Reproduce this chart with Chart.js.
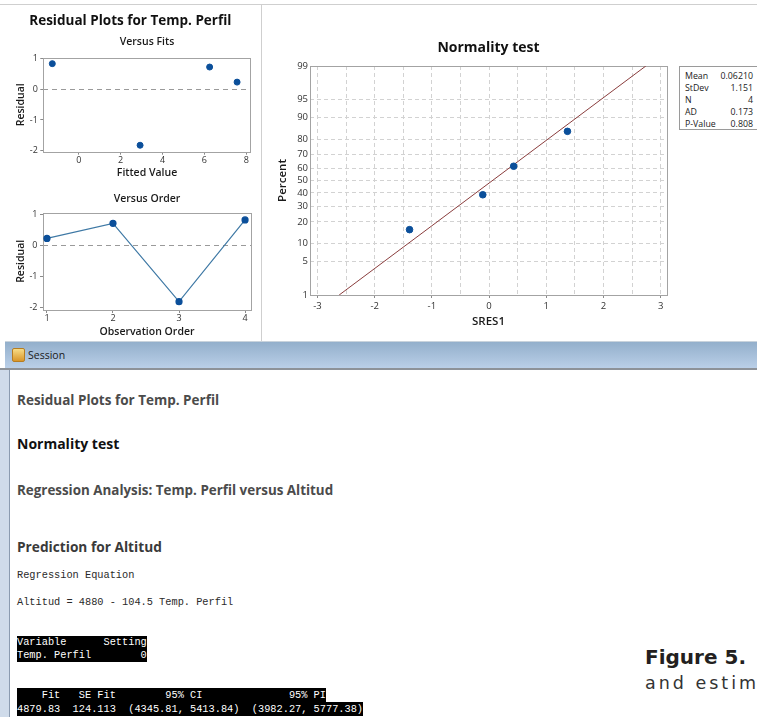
<!DOCTYPE html>
<html>
<head>
<meta charset="utf-8">
<script src="https://cdn.jsdelivr.net/npm/chart.js@4.4.0/dist/chart.umd.min.js"></script>
<style>
  body { margin: 0; width: 757px; height: 717px; overflow: hidden; background: #fff; position: relative; font-family: "Open Sans", sans-serif; }
  .abs { position: absolute; }
  .head { position: absolute; left: 17px; height: 20px; line-height: 20px; font-weight: 700; white-space: nowrap; }
  .mono { position: absolute; left: 17px; font-family: "Liberation Mono", monospace; font-size: 10.3px; color: #2a2a2a; white-space: pre; }
  .hl { display: inline-block; background: #000; color: #fff; }
  #stats { left: 679px; top: 66px; width: 90px; height: 62px; border: 1px solid #9a9a9a; font-size: 8.8px; color: #222; }
  #stats table { border-collapse: collapse; margin: 3px 0 0 5px; width: 68px; }
  #stats td { padding: 0; height: 12px; line-height: 12px; }
  #stats td.v { text-align: right; }
</style>
</head>
<body>
<div class="abs" style="left:0;top:4px;width:757px;height:1px;background:#cfcfcf"></div>
<div class="abs" style="left:261px;top:4px;width:1px;height:338px;background:#cfcfcf"></div>

<canvas id="fits" class="abs" style="left:10px;top:0" width="251" height="182"></canvas>
<canvas id="order" class="abs" style="left:10px;top:182px" width="251" height="158"></canvas>
<canvas id="normal" class="abs" style="left:262px;top:5px" width="415" height="335"></canvas>

<div id="stats" class="abs">
  <table>
    <tr><td>Mean</td><td class="v">0.06210</td></tr>
    <tr><td>StDev</td><td class="v">1.151</td></tr>
    <tr><td>N</td><td class="v">4</td></tr>
    <tr><td>AD</td><td class="v">0.173</td></tr>
    <tr><td>P-Value</td><td class="v">0.808</td></tr>
  </table>
</div>

<!-- session window -->
<div class="abs" style="left:5px;top:341px;width:752px;height:1px;background:#c9d3dc"></div>
<div class="abs" style="left:5px;top:342px;width:752px;height:26px;background:linear-gradient(#93afcb,#bacfe8)"></div>
<div class="abs" style="left:12px;top:348px;width:11px;height:12px;background:linear-gradient(#f7dc86,#d9962a);border:1px solid #b67d22;border-radius:2px"></div>
<div class="abs" style="left:28px;top:346px;font-size:10.5px;line-height:18px;color:#1a1a1a">Session</div>
<div class="abs" style="left:0;top:368px;width:757px;height:2px;background:#8d9299"></div>
<div class="abs" style="left:0;top:370px;width:9px;height:347px;background:#cfdbea"></div>
<div class="abs" style="left:9px;top:370px;width:1px;height:347px;background:#8b9bb0"></div>

<div class="head" style="top:390px;font-size:13.5px;color:#4b4b4b">Residual Plots for Temp. Perfil</div>
<div class="head" style="top:434px;font-size:14px;color:#111">Normality test</div>
<div class="head" style="top:480px;font-size:13.4px;color:#4b4b4b">Regression Analysis: Temp. Perfil versus Altitud</div>
<div class="head" style="top:537px;font-size:13.7px;color:#3a3a3a">Prediction for Altitud</div>
<div class="mono" style="top:569px">Regression Equation</div>
<div class="mono" style="top:596px">Altitud = 4880 - 104.5 Temp. Perfil</div>
<div class="mono" style="top:636px;line-height:13px"><span class="hl">Variable      Setting</span><br><span class="hl">Temp. Perfil        0</span></div>
<div class="mono" style="top:688px;line-height:14px"><span class="hl">    Fit   SE Fit        95% CI              95% PI</span><br><span class="hl">4879.83  124.113  (4345.81, 5413.84)  (3982.27, 5777.38)</span></div>

<div class="abs" style="left:645px;top:645px;font-family:'DejaVu Sans',sans-serif;font-weight:bold;font-size:20px;line-height:24px;color:#231f20;white-space:nowrap">Figure 5.</div>
<div class="abs" style="left:645px;top:671px;font-family:'DejaVu Sans',sans-serif;font-size:17.5px;line-height:24px;letter-spacing:3px;color:#333;white-space:nowrap">and estim</div>

<script>
// residuals by observation order
const observation = [1, 2, 3, 4];
const fittedValue = [7.56, 6.25, 2.93, -1.26];
const residual = [0.23, 0.72, -1.82, 0.83];

// normal probability plot
const sres = [-1.39, -0.11, 0.43, 1.37];
const sresPercent = [15.9, 38.6, 61.4, 84.1];
const fitLineX = [-2.62, 2.74];
const fitLinePercent = [1, 99];
const percentTicks = [1, 5, 10, 20, 30, 40, 50, 60, 70, 80, 90, 95, 99];

const FONT = '"Open Sans", sans-serif';
const ptBlue = '#0b4f9a';

// inverse normal cdf (Acklam) for the probability axis
function probit(p) {
  const a = [-39.69683028665376, 220.9460984245205, -275.9285104469687, 138.3577518672690, -30.66479806614716, 2.506628277459239];
  const b = [-54.47609879822406, 161.5858368580409, -155.6989798598866, 66.80131188771972, -13.28068155288572];
  const c = [-0.007784894002430293, -0.3223964580411365, -2.400758277161838, -2.549732539343734, 4.374664141464968, 2.938163982698783];
  const d = [0.007784695709041462, 0.3224671290700398, 2.445134137142996, 3.754408661907416];
  const pl = 0.02425;
  let q, r;
  if (p < pl) {
    q = Math.sqrt(-2 * Math.log(p));
    return (((((c[0]*q+c[1])*q+c[2])*q+c[3])*q+c[4])*q+c[5]) / ((((d[0]*q+d[1])*q+d[2])*q+d[3])*q+1);
  }
  if (p > 1 - pl) {
    q = Math.sqrt(-2 * Math.log(1 - p));
    return -(((((c[0]*q+c[1])*q+c[2])*q+c[3])*q+c[4])*q+c[5]) / ((((d[0]*q+d[1])*q+d[2])*q+d[3])*q+1);
  }
  q = p - 0.5; r = q * q;
  return (((((a[0]*r+a[1])*r+a[2])*r+a[3])*r+a[4])*r+a[5])*q / (((((b[0]*r+b[1])*r+b[2])*r+b[3])*r+b[4])*r+1);
}

class ProbabilityScale extends Chart.Scale {
  static id = 'probability';
  static defaults = {};
  parse(raw) { return raw == null ? NaN : +raw; }
  determineDataLimits() {
    const { min, max } = this.getUserBounds();
    this.min = min; this.max = max;
  }
  buildTicks() {
    return (this.options.ticks.values || []).map(v => ({ value: v }));
  }
  getLabelForValue(v) { return String(v); }
  getPixelForValue(v) {
    const z0 = probit(this.min / 100), z1 = probit(this.max / 100);
    return this.getPixelForDecimal((probit(v / 100) - z0) / (z1 - z0));
  }
  getValueForPixel(px) { return NaN; }
}
Chart.register(ProbabilityScale);

// box round the plot area
const frame = {
  id: 'frame',
  beforeDatasetsDraw(chart) {
    const { ctx, chartArea: a } = chart;
    ctx.save();
    ctx.strokeStyle = '#a3a3a3';
    ctx.lineWidth = 1;
    ctx.strokeRect(Math.round(a.left) + 0.5, Math.round(a.top) + 0.5, Math.round(a.right - a.left), Math.round(a.bottom - a.top));
    ctx.restore();
  }
};

const tickFont = { family: FONT, size: 9 };
const axisTitle = (text, pad) => ({ display: true, text: text, color: '#1a1a1a', font: { family: FONT, size: 10.5, weight: '600' }, padding: pad });
const zeroLine = {
  color: c => c.tick && c.tick.value === 0 ? '#9a9a9a' : 'rgba(0,0,0,0)',
  tickColor: '#8a8a8a', tickLength: 3, borderDash: [5, 4]
};

new Chart(document.getElementById('fits'), {
  type: 'scatter',
  data: {
    datasets: [{
      data: fittedValue.map((f, i) => ({ x: f, y: residual[i] })),
      pointRadius: 3, pointBackgroundColor: ptBlue, pointBorderColor: ptBlue
    }]
  },
  options: {
    responsive: false, animation: false, events: [],
    layout: { padding: { left: 0, right: 10.3, top: 0, bottom: 0 } },
    plugins: {
      legend: { display: false }, tooltip: { enabled: false },
      title: { display: true, text: 'Residual Plots for Temp. Perfil', color: '#111', font: { family: FONT, size: 13.5, weight: 'bold' }, padding: { top: 12.9, bottom: 5 } },
      subtitle: { display: true, text: 'Versus Fits', fullSize: false, color: '#1a1a1a', font: { family: FONT, size: 10.5, weight: '600' }, padding: { top: 1.6, bottom: 9.5 } }
    },
    scales: {
      x: {
        min: -1.69, max: 8.21,
        ticks: { stepSize: 2, includeBounds: false, font: tickFont, color: '#333', padding: 0, maxRotation: 0 },
        grid: { color: 'rgba(0,0,0,0)', tickColor: '#8a8a8a', tickLength: 3 },
        border: { display: false },
        title: axisTitle('Fitted Value', { top: 0, bottom: 3 }),
        afterFit: s => { s.height = 30.3; }
      },
      y: {
        min: -2.03, max: 1.02,
        ticks: { stepSize: 1, includeBounds: false, font: tickFont, color: '#333', padding: 2.5 },
        grid: zeroLine,
        border: { display: false, dash: [5, 4] },
        title: axisTitle('Residual', { top: 4.7, bottom: 0 }),
        afterFit: s => { s.width = 33.3; }
      }
    }
  },
  plugins: [frame]
});

new Chart(document.getElementById('order'), {
  type: 'line',
  data: {
    datasets: [{
      data: observation.map((o, i) => ({ x: o, y: residual[i] })),
      borderColor: '#3f79a5', borderWidth: 1.2,
      pointRadius: 3, pointBackgroundColor: ptBlue, pointBorderColor: ptBlue,
      tension: 0
    }]
  },
  options: {
    responsive: false, animation: false, events: [],
    layout: { padding: { left: 0, right: 10, top: 0, bottom: 0 } },
    plugins: {
      legend: { display: false }, tooltip: { enabled: false },
      title: { display: true, text: 'Versus Order', fullSize: false, color: '#1a1a1a', font: { family: FONT, size: 10.5, weight: '600' }, padding: { top: 11, bottom: 7.1 } }
    },
    scales: {
      x: {
        type: 'linear', min: 0.94, max: 4.09,
        ticks: { stepSize: 1, includeBounds: false, font: tickFont, color: '#333', padding: 0, maxRotation: 0 },
        grid: { color: 'rgba(0,0,0,0)', tickColor: '#8a8a8a', tickLength: 3 },
        border: { display: false },
        title: axisTitle('Observation Order', { top: 0, bottom: 1.7 }),
        afterFit: s => { s.height = 30; }
      },
      y: {
        min: -2.09, max: 1.065,
        ticks: { stepSize: 1, includeBounds: false, font: tickFont, color: '#333', padding: 2.5 },
        grid: zeroLine,
        border: { display: false, dash: [5, 4] },
        title: axisTitle('Residual', { top: 4.7, bottom: 0 }),
        afterFit: s => { s.width = 33; }
      }
    }
  },
  plugins: [frame]
});

new Chart(document.getElementById('normal'), {
  type: 'scatter',
  data: {
    datasets: [{
      data: sres.map((s, i) => ({ x: s, y: sresPercent[i] })),
      pointRadius: 3.3, pointBackgroundColor: ptBlue, pointBorderColor: ptBlue
    }, {
      type: 'line',
      data: fitLineX.map((s, i) => ({ x: s, y: fitLinePercent[i] })),
      borderColor: '#8a3d3d', borderWidth: 1, pointRadius: 0, tension: 0
    }]
  },
  options: {
    responsive: false, animation: false, events: [],
    layout: { padding: { left: 0, right: 10, top: 0, bottom: 0 } },
    plugins: {
      legend: { display: false }, tooltip: { enabled: false },
      title: { display: true, text: 'Normality test', fullSize: false, color: '#111', font: { family: FONT, size: 14, weight: 'bold' }, padding: { top: 34.6, bottom: 9.6 } }
    },
    scales: {
      x: {
        min: -3.13, max: 3.11,
        ticks: {
          stepSize: 0.5, includeBounds: false, autoSkip: false, maxRotation: 0,
          font: { family: FONT, size: 9.5 }, color: '#333', padding: 2.3,
          callback: v => Number.isInteger(v) ? String(v) : ''
        },
        grid: {
          color: '#d2d2d2', tickLength: 3, borderDash: [4, 3],
          tickColor: c => c.tick && Number.isInteger(c.tick.value) ? '#8a8a8a' : 'rgba(0,0,0,0)'
        },
        border: { display: false, dash: [4, 3] },
        title: { display: true, text: 'SRES1', color: '#1a1a1a', font: { family: FONT, size: 11.5, weight: '600' }, padding: { top: 0, bottom: 11.4 } },
        afterFit: s => { s.height = 45; }
      },
      y: {
        type: 'probability', min: 1, max: 99,
        ticks: { values: percentTicks, autoSkip: false, font: { family: FONT, size: 9.5 }, color: '#333', padding: 2 },
        grid: { color: '#d2d2d2', drawTicks: false, borderDash: [4, 3] },
        border: { display: false, dash: [4, 3] },
        title: { display: true, text: 'Percent', color: '#1a1a1a', font: { family: FONT, size: 11.5, weight: '600' }, padding: { top: 13.8, bottom: 0 } },
        afterFit: s => { s.width = 48; }
      }
    }
  },
  plugins: [frame]
});
</script>
</body>
</html>
